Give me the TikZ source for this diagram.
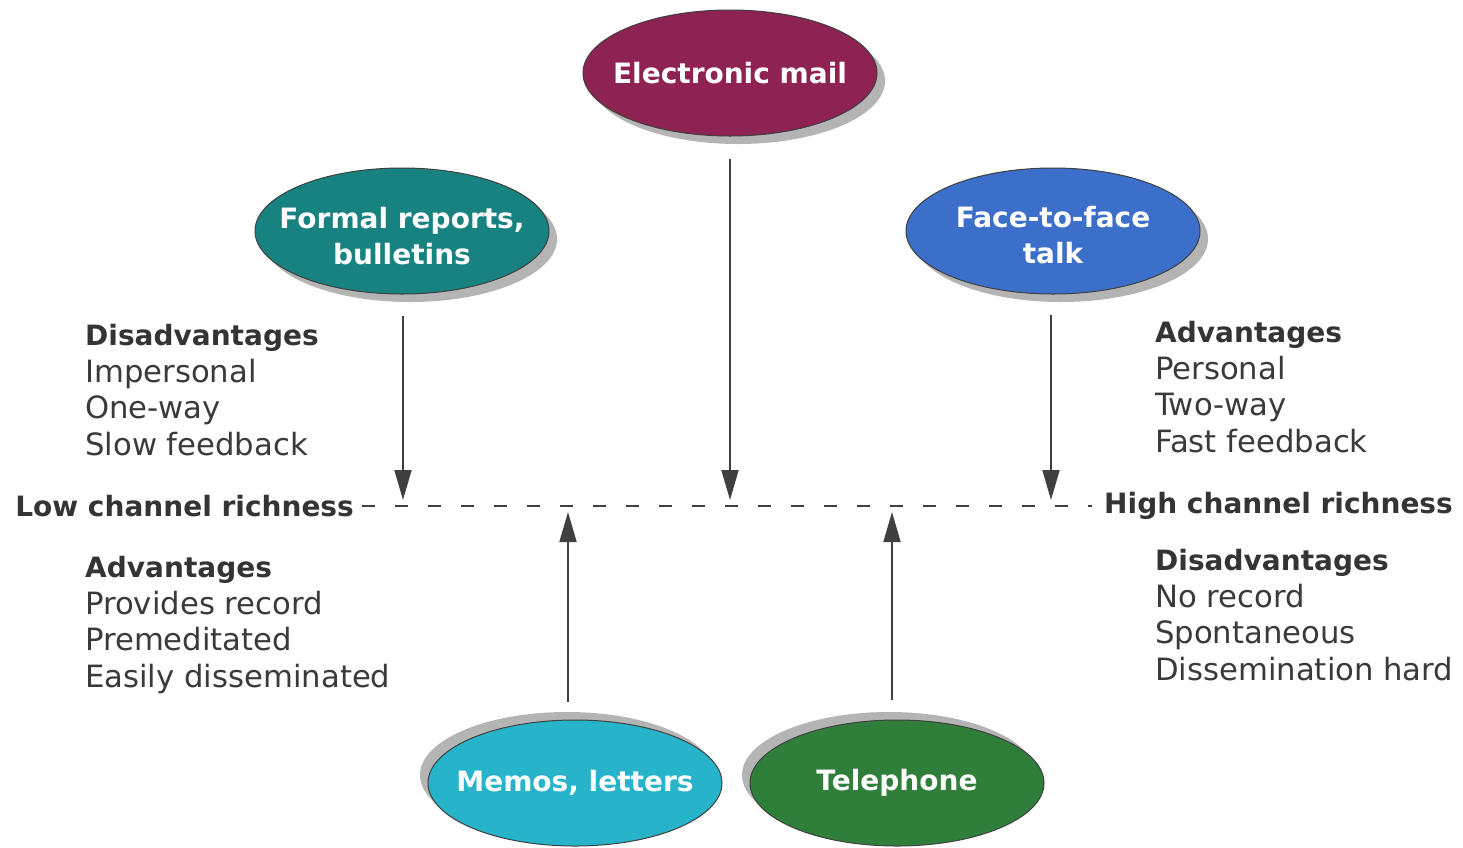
\documentclass[tikz,border=0pt]{standalone}
\usepackage{fontspec}
\setmainfont{DejaVu Sans}
\usetikzlibrary{arrows.meta,shapes.geometric,shadows}

\definecolor{mailc}{HTML}{8E2252}
\definecolor{formalc}{HTML}{17827F}
\definecolor{facec}{HTML}{3C6FC9}
\definecolor{memoc}{HTML}{27B3C9}
\definecolor{phonec}{HTML}{2F7F3B}
\definecolor{inkc}{HTML}{3A3A3A}
\definecolor{shadec}{HTML}{B4B4B4}

\begin{document}
\begin{tikzpicture}[x=1pt,y=-1pt,
  blob/.style={ellipse, draw=black!75, line width=1pt,
    minimum width=294pt, minimum height=126pt, inner sep=0pt},
  blobtext/.style={text=white, align=center, inner sep=0pt,
    font=\fontsize{28}{36}\selectfont\bfseries},
  shadowdown/.style={drop shadow={shadow xshift=8pt, shadow yshift=-8pt,
    fill=shadec, opacity=1}},
  shadowup/.style={drop shadow={shadow xshift=-8pt, shadow yshift=8pt,
    fill=shadec, opacity=1}},
  head/.style={anchor=base west, inner sep=0pt, text=inkc!90!black,
    font=\fontsize{28}{36}\selectfont\bfseries},
  item/.style={anchor=base west, inner sep=0pt, text=inkc,
    font=\fontsize{30.7}{36}\selectfont},
  conn/.style={draw=black!75, line width=1.8pt,
    -{Triangle[length=30pt,width=17pt]}},
  richline/.style={draw=black!75, line width=1.6pt,
    dash pattern=on 13pt off 20pt}]

\useasboundingbox (0,0) rectangle (1463,847);
\fill[white] (0,0) rectangle (1463,847);

% channel ellipses, captions set as centred labels
\node[blob, fill=mailc, shadowdown,
  label={[blobtext]center:Electronic mail}] (mail) at (730,73) {};
\node[blob, fill=formalc, shadowdown,
  label={[blobtext, yshift=-5pt]center:Formal reports,\\bulletins}] (formal) at (402,231) {};
\node[blob, fill=facec, shadowdown,
  label={[blobtext, yshift=-4pt]center:Face-to-face\\talk}] (face) at (1053,231) {};
\node[blob, fill=memoc, shadowup,
  label={[blobtext]center:Memos, letters}] (memo) at (575,783) {};
\node[blob, fill=phonec, shadowup,
  label={[blobtext]center:Telephone}] (phone) at (897,783) {};

% richness scale
\node[head, anchor=base east] (low) at (354,516) {Low channel richness};
\node[head] (high) at (1104,513) {High channel richness};
\coordinate (lo) at (362,506);
\coordinate (hi) at (1092,506);
\draw[richline] (lo) -- (hi);

% arrow end points on the scale
\coordinate (pformal) at (403,500);
\coordinate (pmail) at (730,500);
\coordinate (pface) at (1051,500);
\coordinate (pmemo) at (568,512);
\coordinate (pphone) at (892,512);

\draw[conn, shorten <=21pt] (formal.south -| pformal) -- (pformal);
\draw[conn, shorten <=22pt] (mail.south -| pmail) -- (pmail);
\draw[conn, shorten <=20pt] (face.south -| pface) -- (pface);
\draw[conn, shorten <=18pt] (memo.north -| pmemo) -- (pmemo);
\draw[conn, shorten <=20pt] (phone.north -| pphone) -- (pphone);

% low richness: disadvantages / advantages
\node[head] (ld0) at (85,345) {Disadvantages};
\node[item] (ld1) at (85,382) {Impersonal};
\node[item] (ld2) at (85,418) {One-way};
\node[item] (ld3) at (85,455) {Slow feedback};

\node[head] (la0) at (85,577) {Advantages};
\node[item] (la1) at (85,614) {Provides record};
\node[item] (la2) at (85,650) {Premeditated};
\node[item] (la3) at (85,687) {Easily disseminated};

% high richness: advantages / disadvantages
\node[head] (ha0) at (1155,342) {Advantages};
\node[item] (ha1) at (1155,379) {Personal};
\node[item] (ha2) at (1155,415) {Two-way};
\node[item] (ha3) at (1155,452) {Fast feedback};

\node[head] (hd0) at (1155,570) {Disadvantages};
\node[item] (hd1) at (1155,607) {No record};
\node[item] (hd2) at (1155,643) {Spontaneous};
\node[item] (hd3) at (1155,680) {Dissemination hard};

\end{tikzpicture}
\end{document}
